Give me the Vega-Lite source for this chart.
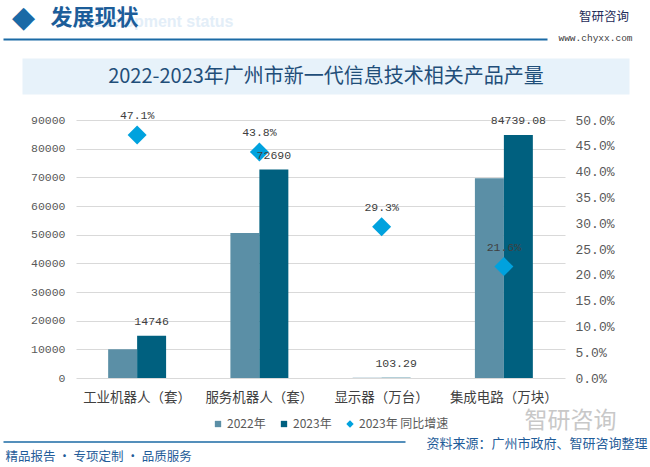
{
  "$schema": "https://vega.github.io/schema/vega-lite/v6.json",
  "width": 489,
  "height": 258,
  "autosize": {"type": "none"},
  "padding": {"left": 76, "top": 120, "right": 85, "bottom": 89},
  "background": "white",
  "config": {"view": {"stroke": null}},
  "datasets": {
    "bars": [
      {"category": "工业机器人（套）", "year": "2022年", "value": 10025},
      {"category": "工业机器人（套）", "year": "2023年", "value": 14746},
      {"category": "服务机器人（套）", "year": "2022年", "value": 50549},
      {"category": "服务机器人（套）", "year": "2023年", "value": 72690},
      {"category": "显示器（万台）", "year": "2022年", "value": 79.88},
      {"category": "显示器（万台）", "year": "2023年", "value": 103.29},
      {"category": "集成电路（万块）", "year": "2022年", "value": 69687},
      {"category": "集成电路（万块）", "year": "2023年", "value": 84739.08}
    ],
    "growth": [
      {"category": "工业机器人（套）", "pct": 0.471},
      {"category": "服务机器人（套）", "pct": 0.438},
      {"category": "显示器（万台）", "pct": 0.293},
      {"category": "集成电路（万块）", "pct": 0.216}
    ],
    "dummy": [{"d": 0}]
  },
  "resolve": {
    "scale": {"x": "independent", "y": "independent"},
    "axis": {"x": "independent", "y": "independent"}
  },
  "layer": [
    {
      "data": {"name": "bars"},
      "mark": {"type": "bar"},
      "encoding": {
        "x": {
          "field": "category", "type": "nominal",
          "sort": ["工业机器人（套）", "服务机器人（套）", "显示器（万台）", "集成电路（万块）"],
          "scale": {"paddingInner": 0.526, "paddingOuter": 0.263},
          "axis": {
            "orient": "bottom", "labelAngle": 0, "labelFont": "Noto Sans CJK SC", "labelFontSize": 13.5,
            "labelColor": "#404040", "labelPadding": 12, "ticks": false, "domain": false, "grid": false,
            "title": "Development status", "titleX": 157, "titleY": -357, "titleAlign": "right",
            "titleBaseline": "middle", "titleAngle": 0, "titleFont": "Liberation Sans", "titleFontSize": 16,
            "titleFontWeight": "bold", "titleColor": "#E3EEF8"
          }
        },
        "xOffset": {"field": "year", "type": "nominal", "scale": {"domain": ["2022年", "2023年"], "paddingInner": 0, "paddingOuter": 0}},
        "y": {
          "field": "value", "type": "quantitative",
          "scale": {"domain": [0, 90000], "nice": false},
          "axis": {
            "orient": "left", "values": [0, 10000, 20000, 30000, 40000, 50000, 60000, 70000, 80000, 90000],
            "format": "d", "grid": true, "gridColor": "#D9D9D9", "gridWidth": 1, "domain": false, "ticks": false,
            "labelPadding": 11, "labelFont": "Liberation Mono", "labelFontSize": 11.5, "labelColor": "#595959",
            "title": "发展现状", "titleX": 18, "titleY": -103, "titleAlign": "center", "titleBaseline": "middle",
            "titleAngle": 0, "titleFont": "Noto Sans CJK SC", "titleFontSize": 22, "titleFontWeight": "bold",
            "titleColor": "#1C5D99"
          }
        },
        "color": {
          "field": "year", "type": "nominal",
          "scale": {"domain": ["2022年", "2023年", "2023年 同比增速"], "range": ["#5B8FA6", "#00607F", "#00A2DE"]},
          "legend": {
            "orient": "none", "legendX": 136, "legendY": 298, "direction": "horizontal", "title": null,
            "padding": 0, "symbolSize": 40, "symbolStrokeWidth": 0, "symbolOpacity": 1,
            "labelFont": "Noto Sans CJK SC", "labelFontSize": 12, "labelColor": "#595959",
            "labelOffset": 3, "columnPadding": 12,
            "encode": {"symbols": {"update": {
              "shape": {"signal": "datum.index === 2 ? 'diamond' : 'square'"},
              "size": {"signal": "datum.index === 2 ? 55 : 40"}
            }}}
          }
        }
      }
    },
    {
      "data": {"name": "growth"},
      "mark": {"type": "point", "shape": "diamond", "filled": true, "size": 360, "opacity": 1, "strokeWidth": 0},
      "encoding": {
        "x": {
          "field": "category", "type": "nominal",
          "sort": ["工业机器人（套）", "服务机器人（套）", "显示器（万台）", "集成电路（万块）"],
          "scale": {"paddingInner": 0.526, "paddingOuter": 0.263},
          "axis": null
        },
        "y": {
          "field": "pct", "type": "quantitative",
          "scale": {"domain": [0, 0.5], "nice": false},
          "axis": {
            "orient": "right", "values": [0, 0.05, 0.1, 0.15, 0.2, 0.25, 0.3, 0.35, 0.4, 0.45, 0.5],
            "format": ".1%", "grid": false, "domain": false, "ticks": false, "labelPadding": 10,
            "labelFont": "Liberation Mono", "labelFontSize": 13, "labelColor": "#595959",
            "title": "www.chyxx.com", "titleX": 30, "titleY": -83, "titleAlign": "center", "titleBaseline": "middle",
            "titleAngle": 0, "titleFont": "Liberation Mono", "titleFontSize": 9.5, "titleFontWeight": "normal",
            "titleColor": "#404040"
          }
        },
        "color": {
          "datum": "2023年 同比增速",
          "scale": {"domain": ["2022年", "2023年", "2023年 同比增速"], "range": ["#5B8FA6", "#00607F", "#00A2DE"]}
        }
      }
    },
    {
      "data": {"name": "bars"},
      "transform": [{"filter": "datum.year === '2023年'"}],
      "mark": {"type": "text", "dy": -14, "font": "Liberation Mono", "fontSize": 11.5, "color": "#404040"},
      "encoding": {
        "x": {
          "field": "category", "type": "nominal",
          "sort": ["工业机器人（套）", "服务机器人（套）", "显示器（万台）", "集成电路（万块）"],
          "scale": {"paddingInner": 0.526, "paddingOuter": 0.263},
          "axis": null
        },
        "xOffset": {"field": "year", "type": "nominal", "scale": {"domain": ["2022年", "2023年"], "paddingInner": 0, "paddingOuter": 0}},
        "y": {"field": "value", "type": "quantitative", "scale": {"domain": [0, 90000], "nice": false}, "axis": null},
        "text": {"field": "value", "type": "nominal"}
      }
    },
    {
      "data": {"name": "growth"},
      "mark": {"type": "text", "dy": -19, "font": "Liberation Mono", "fontSize": 11.5, "color": "#404040"},
      "encoding": {
        "x": {
          "field": "category", "type": "nominal",
          "sort": ["工业机器人（套）", "服务机器人（套）", "显示器（万台）", "集成电路（万块）"],
          "scale": {"paddingInner": 0.526, "paddingOuter": 0.263},
          "axis": null
        },
        "y": {"field": "pct", "type": "quantitative", "scale": {"domain": [0, 0.5], "nice": false}, "axis": null},
        "text": {"field": "pct", "type": "quantitative", "format": ".1%"}
      }
    },
    {
      "data": {"name": "dummy"},
      "mark": {"type": "text", "text": ""},
      "encoding": {
        "x": {
          "field": "d", "type": "quantitative", "scale": {"domain": [0, 1], "range": [-54, 553]},
          "axis": {
            "orient": "top", "offset": 44, "domain": true, "domainWidth": 36, "domainColor": "#E7F2FA",
            "labels": false, "ticks": false, "grid": false,
            "title": "2022-2023年广州市新一代信息技术相关产品产量", "titleX": 249.5, "titleY": 0,
            "titleAlign": "center", "titleBaseline": "middle", "titleAngle": 0, "titleFont": "Noto Sans CJK SC",
            "titleFontSize": 20, "titleFontWeight": "normal", "titleColor": "#1F4E79"
          }
        },
        "y": {
          "field": "d", "type": "quantitative", "scale": {"domain": [0, 1]},
          "axis": {
            "orient": "right", "domain": false, "labels": false, "ticks": false, "grid": false,
            "title": "智研咨询", "titleX": 38.5, "titleY": -103.5, "titleAlign": "center", "titleBaseline": "middle",
            "titleAngle": 0, "titleFont": "Noto Sans CJK SC", "titleFontSize": 12.5, "titleFontWeight": "normal",
            "titleColor": "#1F2D5A"
          }
        }
      }
    },
    {
      "data": {"name": "dummy"},
      "mark": {"type": "text", "text": ""},
      "encoding": {
        "x": {
          "field": "d", "type": "quantitative", "scale": {"domain": [0, 1], "range": [-73, 471]},
          "axis": {
            "orient": "top", "offset": 81, "domain": true, "domainWidth": 2, "domainColor": "#1B6AA5",
            "labels": false, "ticks": false, "grid": false,
            "title": "资料来源：广州市政府、智研咨询整理", "titleX": 571, "titleY": 404,
            "titleAlign": "right", "titleBaseline": "middle", "titleAngle": 0, "titleFont": "Noto Sans CJK SC",
            "titleFontSize": 13, "titleFontWeight": "normal", "titleColor": "#1F5C99"
          }
        },
        "y": {
          "field": "d", "type": "quantitative", "scale": {"domain": [0, 1]},
          "axis": {
            "orient": "left", "domain": false, "labels": false, "ticks": false, "grid": false,
            "title": "◆", "titleX": -53, "titleY": -103, "titleAlign": "center", "titleBaseline": "middle",
            "titleAngle": 0, "titleFont": "DejaVu Sans", "titleFontSize": 30, "titleFontWeight": "normal",
            "titleColor": "#1A6AA6"
          }
        }
      }
    },
    {
      "data": {"name": "dummy"},
      "mark": {"type": "text", "text": ""},
      "encoding": {
        "x": {
          "field": "d", "type": "quantitative", "scale": {"domain": [0, 1], "range": [-73, 329]},
          "axis": {
            "orient": "bottom", "offset": 63.5, "domain": true, "domainWidth": 1.5, "domainColor": "#1B6AA5",
            "labels": false, "ticks": false, "grid": false,
            "title": "精品报告 · 专项定制 · 品质服务", "titleX": -71, "titleY": 14.5,
            "titleAlign": "left", "titleBaseline": "middle", "titleAngle": 0, "titleFont": "Noto Sans CJK SC",
            "titleFontSize": 12.5, "titleFontWeight": "normal", "titleColor": "#1F5C99"
          }
        },
        "y": {
          "field": "d", "type": "quantitative", "scale": {"domain": [0, 1]},
          "axis": {
            "orient": "right", "domain": false, "labels": false, "ticks": false, "grid": false,
            "title": "智研咨询", "titleX": 5, "titleY": 300.5, "titleAlign": "center", "titleBaseline": "middle",
            "titleAngle": 0, "titleFont": "Noto Sans CJK SC", "titleFontSize": 23, "titleFontWeight": "normal",
            "titleColor": "#C8C8C8"
          }
        }
      }
    }
  ]
}
